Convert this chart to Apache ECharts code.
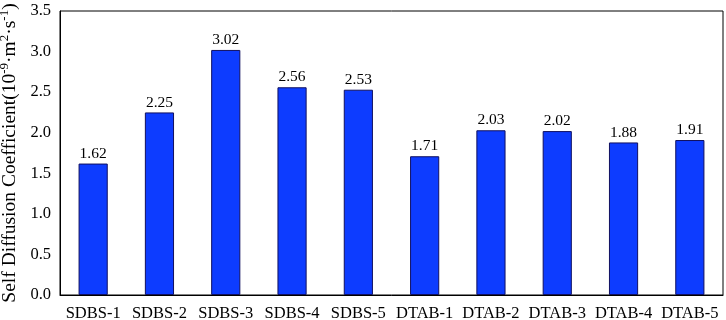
<!DOCTYPE html>
<html>
<head>
<meta charset="utf-8">
<script src="https://cdn.jsdelivr.net/npm/echarts@6/dist/echarts.min.js"></script>
<style>
  html, body { margin: 0; padding: 0; background: #fff; }
  #chart { width: 726px; height: 320px; }
</style>
</head>
<body>
<div id="chart"></div>
<script>
const categories = ['SDBS-1', 'SDBS-2', 'SDBS-3', 'SDBS-4', 'SDBS-5', 'DTAB-1', 'DTAB-2', 'DTAB-3', 'DTAB-4', 'DTAB-5'];
const diffusion = [1.62, 2.25, 3.02, 2.56, 2.53, 1.71, 2.03, 2.02, 1.88, 1.91];

const font = 'Liberation Serif';

const myChart = echarts.init(document.getElementById('chart'));

myChart.setOption({
  animation: false,
  grid: {
    left: 60, right: 3, top: 11, bottom: 25,
    outerBoundsMode: 'none',
    containLabel: false,
    show: true, borderColor: '#000', borderWidth: 1
  },
  xAxis: {
    type: 'category',
    data: categories,
    axisLine: { lineStyle: { color: '#000', width: 1 } },
    axisTick: { inside: true, alignWithLabel: true, length: 6, lineStyle: { color: '#000' } },
    axisLabel: { color: '#000', fontFamily: font, fontSize: 16.5, margin: 10, interval: 0 }
  },
  yAxis: {
    type: 'value',
    min: 0, max: 3.5, interval: 0.5,
    name: 'Self Diffusion Coefficient(10{sup|-9}·m{sup|2}·s{sup|-1})',
    nameLocation: 'middle',
    nameGap: 35,
    nameTextStyle: {
      color: '#000', fontFamily: font, fontSize: 19.5,
      rich: { sup: { fontSize: 13, verticalAlign: 'top', padding: [0, 0, 9, 0], fontFamily: font, color: '#000' } }
    },
    splitLine: { show: false },
    axisLine: { show: true, lineStyle: { color: '#000', width: 1 } },
    axisTick: { inside: true, length: 7, lineStyle: { color: '#000' } },
    axisLabel: { color: '#000', fontFamily: font, fontSize: 16.5, margin: 9, formatter: v => v.toFixed(1) }
  },
  series: [{
    type: 'bar',
    data: diffusion,
    barWidth: '44%',
    itemStyle: { color: '#0D3CFF', borderColor: '#101060', borderWidth: 1 },
    label: {
      show: true, position: 'top', distance: 2,
      color: '#000', fontFamily: font, fontSize: 15.5,
      formatter: p => p.value.toFixed(2)
    }
  }]
});
</script>
</body>
</html>
